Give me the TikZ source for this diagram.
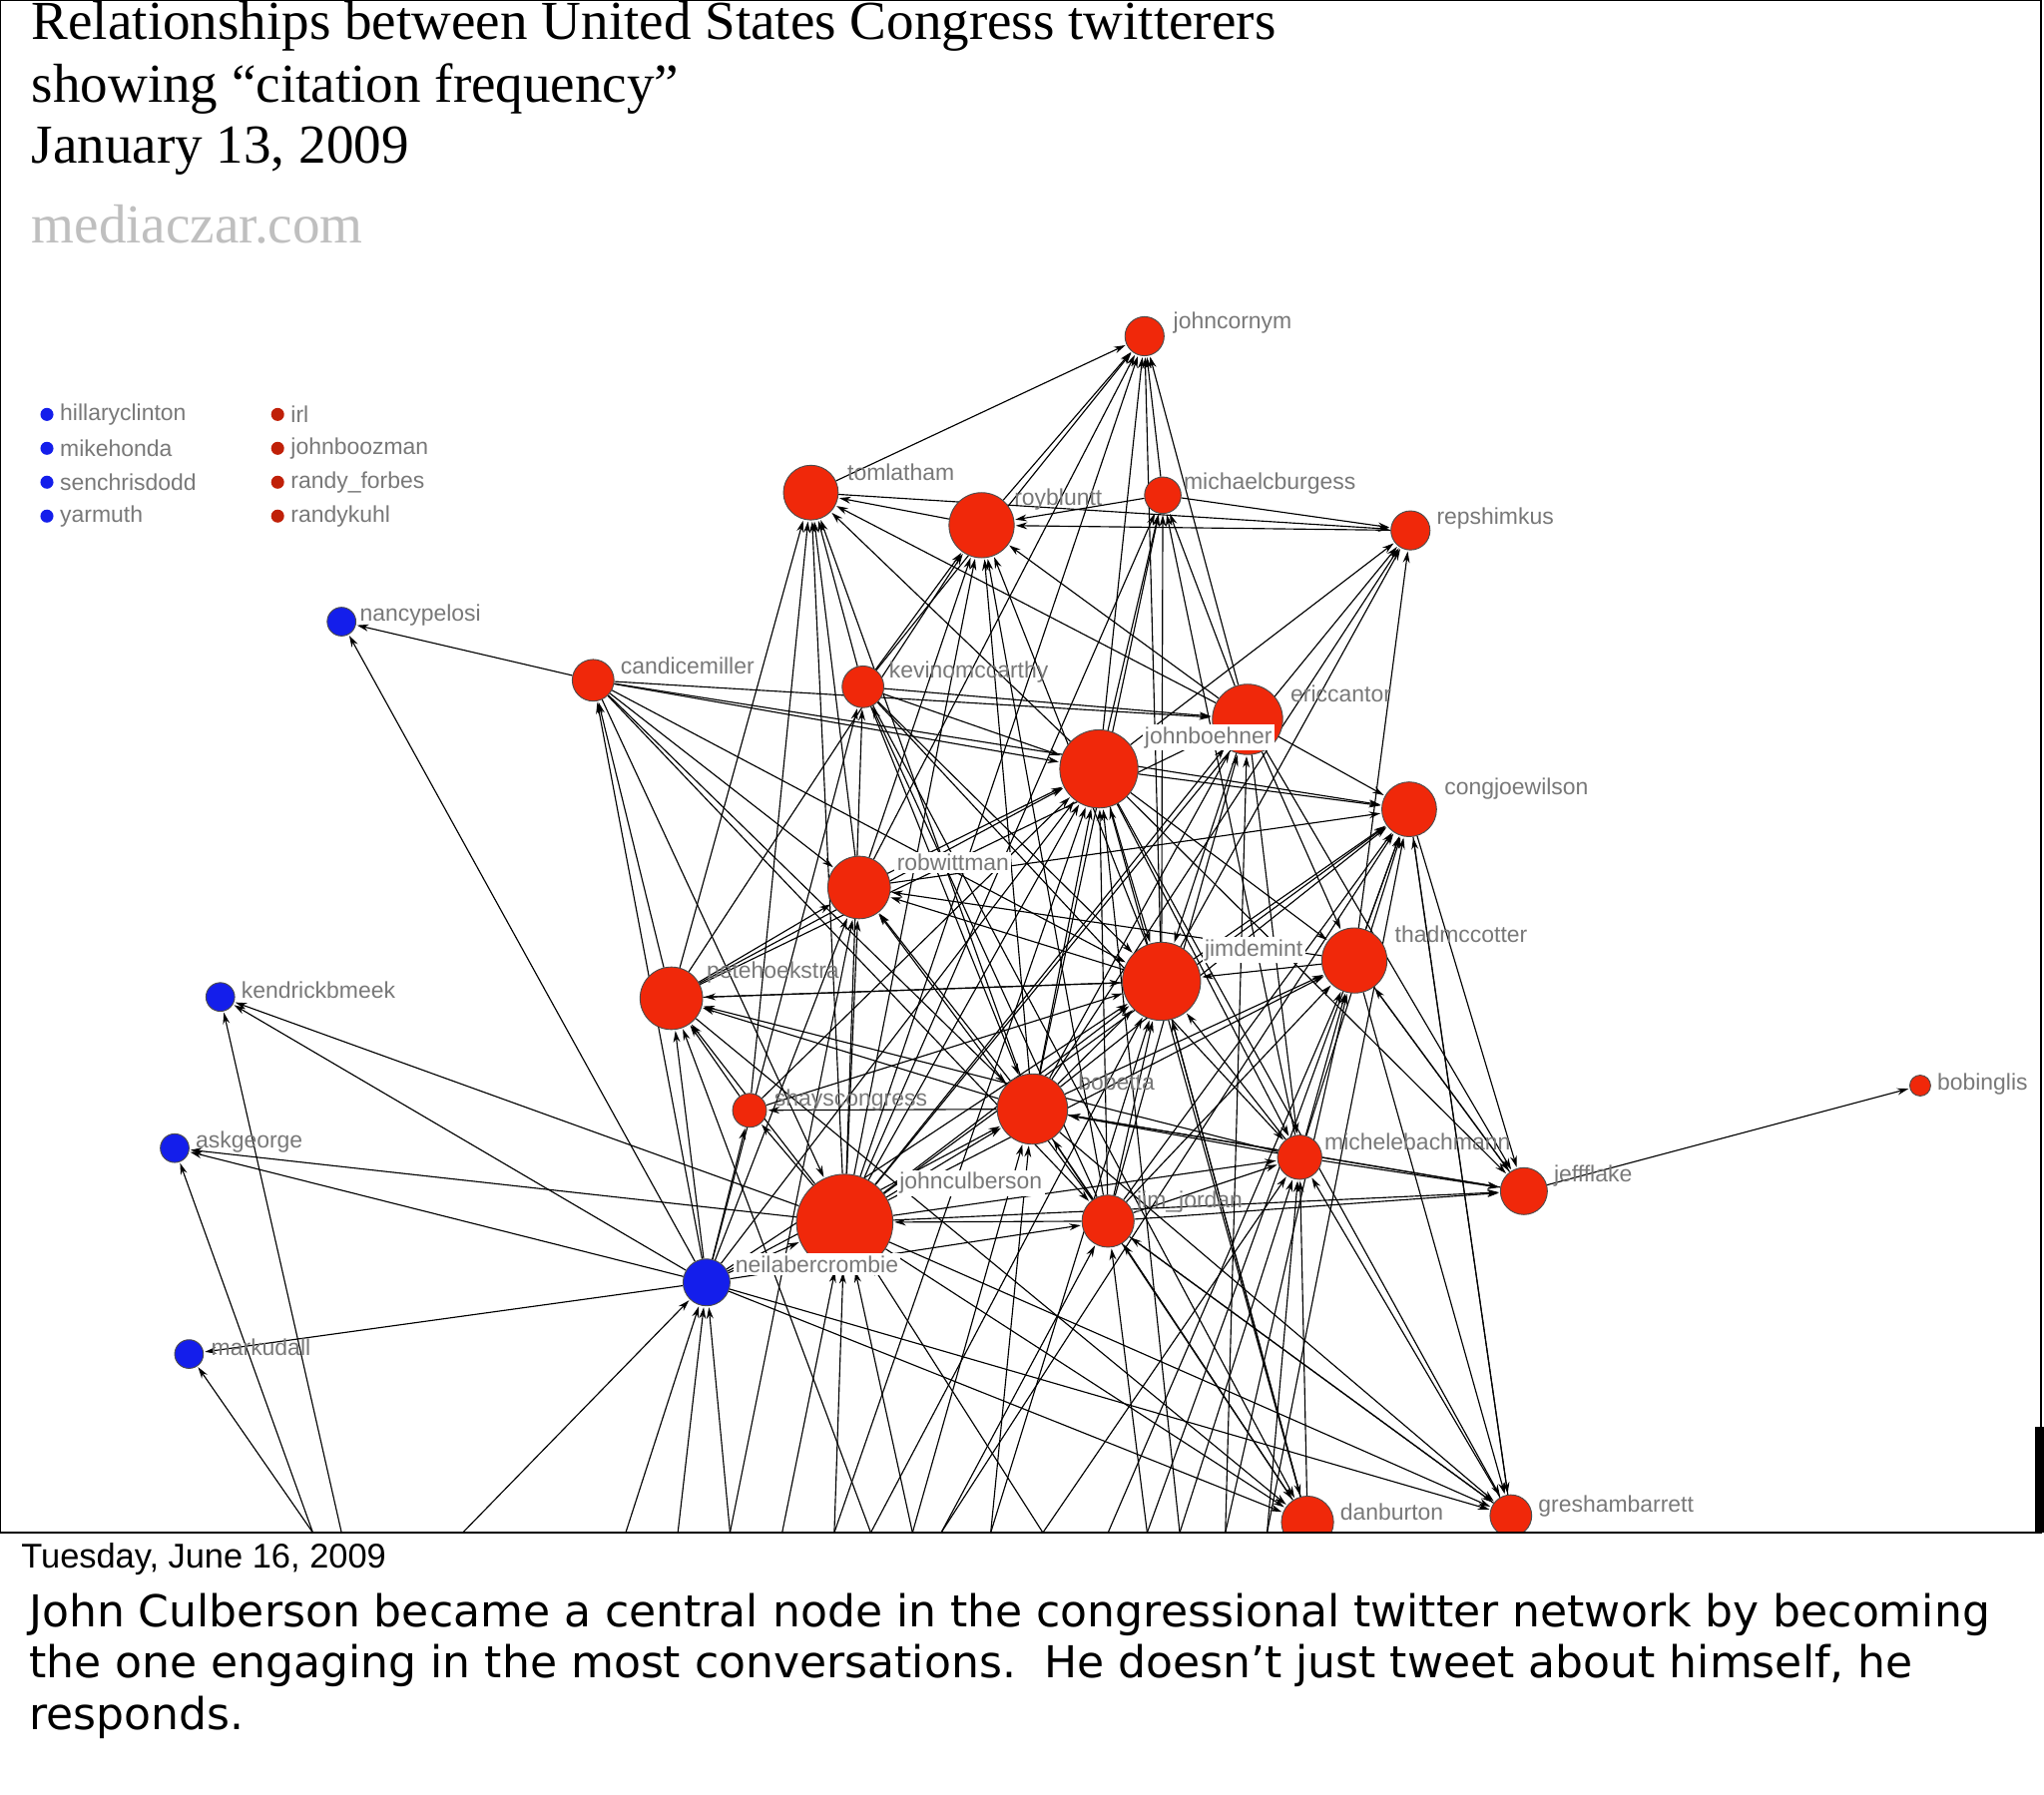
\documentclass[tikz,border=0pt]{standalone}
\usepackage{fontspec}
\setmainfont{Liberation Serif}
\newfontfamily\lab{Liberation Sans}
\newfontfamily\capf{DejaVu Sans}
\usetikzlibrary{arrows.meta,backgrounds}
\definecolor{rnode}{RGB}{240,40,10}
\definecolor{bnode}{RGB}{20,30,235}
\definecolor{lgray}{RGB}{120,120,120}
\begin{document}
\begin{tikzpicture}[x=0.02cm,y=-0.02cm,
  rn/.style={circle,draw=black!70,line width=0.4pt,fill=rnode,inner sep=0pt,minimum size=#1*0.2mm},
  bn/.style={circle,draw=black!70,line width=0.4pt,fill=bnode,inner sep=0pt,minimum size=#1*0.2mm},
  nl/.style={anchor=west,text=lgray,font=\lab\fontsize{10}{11}\selectfont,inner sep=1pt},
  edge/.style={line width=0.5pt,-{Stealth[length=5pt,width=3pt]},shorten >=0.5pt},
  ttl/.style={anchor=west,font=\fontsize{24}{26}\selectfont,inner sep=0pt}]
\useasboundingbox (0,0) rectangle (1568,1376.6);
% title
\node[ttl] (t1) at (24,20) {Relationships between United States Congress twitterers};
\node[ttl] (t2) at (24,68) {showing “citation frequency”};
\node[ttl] (t3) at (24,116) {January 13, 2009};
\node[ttl,text=black!25] (t4) at (24,172) {mediaczar.com};
% legend
\foreach \y/\t [count=\i] in {318/hillaryclinton,344/mikehonda,370/senchrisdodd,396/yarmuth}{
  \fill[bnode] (36,\y) circle (5);
  \node[nl] (lb\i) at (44,\y) {\t};}
\foreach \y/\t [count=\i] in {318/irl,344/johnboozman,370/randy\_forbes,396/randykuhl}{
  \fill[rnode!80!black] (213,\y) circle (5);
  \node[nl] (lr\i) at (221,\y) {\t};}
% nodes
\node[rn=30] (jc) at (878,258) {};
\node[rn=42] (tl) at (622,378) {};
\node[rn=50] (rb) at (753,403) {};
\node[rn=28] (mb) at (892,380) {};
\node[rn=30] (rs) at (1082,407) {};
\node[bn=22] (np) at (262,477) {};
\node[rn=32] (cm) at (455,522) {};
\node[rn=32] (km) at (662,527) {};
\node[rn=54] (ec) at (957,552) {};
\node[rn=60] (jb) at (843,590) {};
\node[rn=42] (cw) at (1081,621) {};
\node[rn=48] (rw) at (659,681) {};
\node[rn=60] (jd) at (891,753) {};
\node[rn=50] (tm) at (1039,737) {};
\node[rn=48] (ph) at (515,766) {};
\node[bn=22] (kb) at (169,765) {};
\node[rn=16] (bi) at (1473,833) {};
\node[rn=26] (sc) at (575,852) {};
\node[rn=54] (bl) at (792,851) {};
\node[bn=22] (ag) at (134,881) {};
\node[rn=34] (mi) at (997,888) {};
\node[rn=36] (jf) at (1169,914) {};
\node[rn=74] (cul) at (648,938) {};
\node[rn=40] (jj) at (850,937) {};
\node[bn=36] (na) at (542,984) {};
\node[bn=22] (mu) at (145,1039) {};
\begin{scope}
\clip (0,0) rectangle (1566,1176);
\node[rn=40] (dan) at (1003,1168) {};
\node[rn=32] (gb) at (1159,1163) {};
\end{scope}
\foreach \n/\x in {b1/240,b2/262,b3/355,b4/480,b5/520,b6/560,b7/600,b8/640,b9/668,b10/700,b11/722,b12/760,b13/800,b14/850,b15/880,b16/905,b17/940,b18/972}
  \coordinate (\n) at (\x,1176);
% edges
\begin{pgfonlayer}{background}
\fill[white] (0,0) rectangle (1568,1376.6);
\clip (0,0) rectangle (1566,1176);
\foreach \a/\b in {km/jc,rb/jc,jb/jc,jd/jc,cul/jc,ec/jc,rw/jc,mb/jc,tl/jc,
 rb/tl,ph/tl,rw/tl,cul/tl,jb/tl,sc/tl,km/tl,bl/tl,ec/tl,
 mb/rb,rs/rb,cul/rb,km/rb,jd/rb,rw/rb,bl/rb,ph/rb,jj/rb,ec/rb,
 jb/mb,jd/mb,ec/mb,cul/mb,mi/mb,bl/mb,
 tl/rs,jb/rs,jd/rs,cul/rs,tm/rs,mb/rs,bl/rs,
 cm/np,na/np,
 cm/jb,cm/ec,cm/cw,cm/jd,cm/rw,cm/bl,cm/cul,cm/jj,ph/cm,na/cm,
 km/jb,km/ec,km/bl,km/jd,km/mi,cul/km,jj/km,na/km,
 ec/cw,ec/jd,ec/tm,ec/mi,cul/ec,bl/ec,jj/ec,ph/ec,
 jb/cw,jb/jd,jb/tm,jb/mi,jb/jf,cul/jb,bl/jb,jj/jb,rw/jb,ph/jb,sc/jb,na/jb,dan/jb,
 tm/cw,jd/cw,mi/cw,bl/cw,cul/cw,rw/cw,jj/cw,gb/cw,
 cul/rw,bl/rw,jj/rw,ph/rw,na/rw,tm/rw,jd/rw,
 cul/jd,bl/jd,jj/jd,tm/jd,mi/jd,ph/jd,sc/jd,dan/jd,na/jd,
 cul/tm,bl/tm,mi/tm,jf/tm,jj/tm,
 cul/ph,bl/ph,sc/ph,na/ph,mi/ph,jd/ph,
 na/kb,cul/kb,b2/kb,
 jf/bi,
 cul/sc,na/sc,bl/sc,
 cul/bl,jj/bl,mi/bl,na/bl,jf/bl,
 na/ag,cul/ag,b1/ag,
 jj/mi,mi/jf,cul/mi,dan/mi,gb/mi,
 jj/jf,cul/jf,bl/jf,tm/jf,ec/jf,cw/jf,
 jj/cul,na/cul,
 dan/jj,gb/jj,na/jj,
 na/mu,b1/mu,
 na/dan,cul/dan,bl/dan,jd/dan,km/dan,ph/dan,
 na/gb,bl/gb,jj/gb,cw/gb,tm/gb,cul/gb,jb/gb,
 b3/na,b4/na,b5/na,b6/na,b7/cul,b8/cul,b9/ph,b10/bl,b11/jj,b12/jd,b13/mi,b14/tm,b15/cw,b16/jb,b17/ec,b18/mi,
 b6/rw,b8/jb,b9/jd,b12/bl,b13/cul,b10/cul,b11/cw,b15/jj,b16/mi,b17/tm,b18/cw}
 \draw[edge] (\a) -- (\b);
\end{pgfonlayer}
% labels
\node[nl] (Ljc) at (898,248) {johncornym};
\node[nl] (Ltl) at (648,362) {tomlatham};
\node[nl] (Lrb) at (776,383) {roybluntt};
\node[nl] (Lmb) at (906,371) {michaelcburgess};
\node[nl] (Lrs) at (1100,398) {repshimkus};
\node[nl] (Lnp) at (274,472) {nancypelosi};
\node[nl] (Lcm) at (474,511) {candicemiller};
\node[nl] (Lkm) at (680,516) {kevinomccarthy};
\node[nl] (Lec) at (988,532) {ericcantor};
\node[nl,fill=white] (Ljb) at (876,566) {johnboehner};
\node[nl] (Lcw) at (1106,605) {congjoewilson};
\node[nl,fill=white] (Lrw) at (686,662) {robwittman};
\node[nl,fill=white] (Ljd) at (922,729) {jimdemint};
\node[nl] (Ltm) at (1068,717) {thadmccotter};
\node[nl] (Lph) at (540,746) {petehoekstra};
\node[nl] (Lkb) at (183,760) {kendrickbmeek};
\node[nl] (Lbi) at (1484,832) {bobinglis};
\node[nl] (Lsc) at (592,844) {shayscongress};
\node[nl] (Lbl) at (825,830) {bobetta};
\node[nl] (Lag) at (148,876) {askgeorge};
\node[nl] (Lmi) at (1014,876) {michelebachmann};
\node[nl] (Ljf) at (1190,902) {jeffflake};
\node[nl,fill=white] (Lcul) at (688,908) {johnculberson};
\node[nl] (Ljj) at (870,922) {jim\_jordan};
\node[nl,fill=white] (Lna) at (562,970) {neilabercrombie};
\node[nl] (Lmu) at (160,1034) {markudall};
\node[nl] (Ldan) at (1026,1160) {danburton};
\node[nl] (Lgb) at (1178,1156) {greshambarrett};
% frame
\draw[line width=0.8pt] (0,0) rectangle (1566,1176);
\fill (1561,1095) rectangle (1568,1176);
% captions
\node[anchor=west,font=\lab\fontsize{15}{17}\selectfont,inner sep=0pt] (d) at (16,1196) {Tuesday, June 16, 2009};
\node[anchor=north west,align=left,font=\capf\fontsize{19.2}{22.5}\selectfont,inner sep=0pt] (c) at (22,1222)
 {John Culberson became a central node in the congressional twitter network by becoming\\
  the one engaging in the most conversations.\ \ He doesn’t just tweet about himself, he\\
  responds.};
\end{tikzpicture}
\end{document}
